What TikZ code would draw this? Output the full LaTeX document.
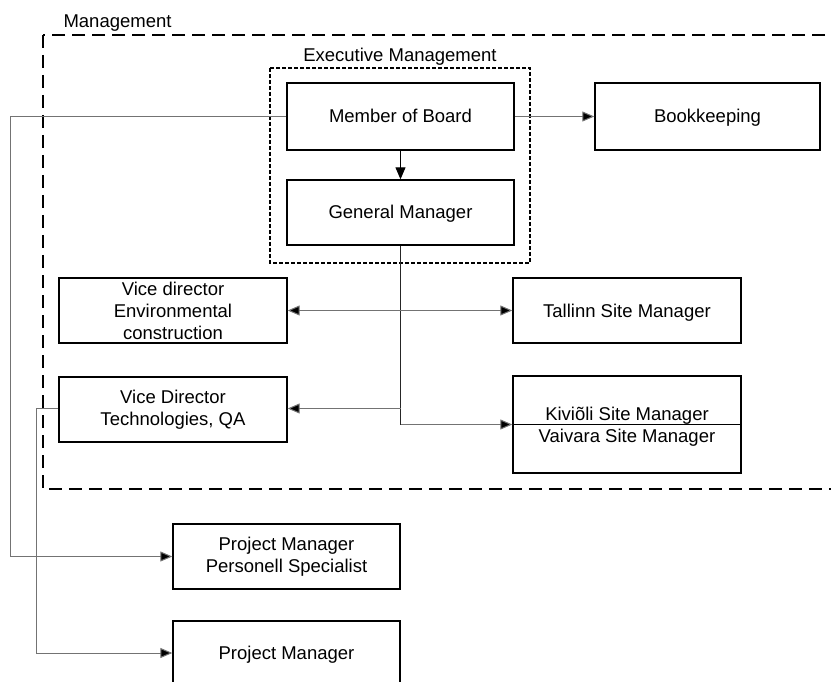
\documentclass[tikz,border=0pt]{standalone}
\usepackage{fontspec}
\setmainfont{Liberation Sans}
\usetikzlibrary{arrows.meta}
\begin{document}
\begin{tikzpicture}[x=1pt,y=-1pt,
  every node/.style={font=\fontsize{18.5}{22}\selectfont},
  unit/.style={draw=black,line width=1.4pt,inner sep=0pt,align=center},
  oneline/.style={text height=16pt,text depth=3pt},
  link/.style={draw=black!55,line width=1pt},
  tip/.style={-{Triangle[length=12pt,width=10pt,fill=black]}},
  bothtips/.style={{Triangle[length=12pt,width=10pt,fill=black]}-{Triangle[length=12pt,width=10pt,fill=black]}},
  group/.style={draw=black,line width=1.5pt,dash pattern=on 13pt off 7pt},
  core/.style={draw=black,line width=1.2pt,dash pattern=on 4pt off 2pt}]
\useasboundingbox (0,0) rectangle (831,682);
\begin{scope}
\clip (0,0) rectangle (831,682);

% outer management area and executive group
\draw[group] (43,35) rectangle (850,489);
\node[anchor=base west] (mgmtlabel) at (60,28) {Management};
\draw[core] (270,68) rectangle (530,263);
\node[anchor=base] (execlabel) at (400,62) {Executive Management};

% boxes
\node[unit,oneline,minimum width=227pt,minimum height=67pt] (board) at (400.5,116.5) {Member of Board};
\node[unit,oneline,minimum width=227pt,minimum height=65pt] (gm) at (400.5,212.5) {General Manager};
\node[unit,oneline,minimum width=225pt,minimum height=67pt] (books) at (707.5,116.5) {Bookkeeping};
\node[unit,minimum width=228pt,minimum height=65pt] (vde) at (173,310.5) {Vice director\\Environmental\\construction};
\node[unit,oneline,minimum width=228pt,minimum height=65pt] (tallinn) at (627,310.5) {Tallinn Site Manager};
\node[unit,minimum width=228pt,minimum height=65pt] (vdt) at (173,409.5) {Vice Director\\Technologies, QA};
\node[unit,minimum width=228pt,minimum height=97pt] (sites) at (627,424.5) {};
\draw[line width=1.4pt] (sites.west) -- (sites.east);
\node[anchor=base] (kivioli) at (627,420) {Kiviõli Site Manager};
\node[anchor=base] (vaivara) at (627,442) {Vaivara Site Manager};
\node[unit,minimum width=227pt,minimum height=65pt] (pmps) at (286.5,556.5) {Project Manager\\Personell Specialist};
\node[unit,oneline,minimum width=227pt,minimum height=64pt] (pm) at (286.5,653) {Project Manager};

% connectors
\coordinate (leftrail) at (10,116.5);
\coordinate (qarail) at (36,408.5);
\coordinate (gmturn) at (400.5,424.5);
\coordinate (gmbranch) at (400.5,408.5);

\draw[link,draw=black,tip] (board.south) -- (gm.north);
\draw[link,tip] (board.east) -- (books.west);
\draw[link,tip] (board.west) -- (leftrail) |- (pmps.west);
\draw[link,draw=black!85] (gm.south) -- (gmturn);
\draw[link,tip] (gmturn) -- (sites.west);
\draw[link,tip] (gmbranch) -- (vdt.east |- gmbranch);
\draw[link,bothtips] (vde.east) -- (tallinn.west);
\draw[link,tip] (vdt.west |- qarail) -- (qarail) |- (pm.west);
\end{scope}
\end{tikzpicture}
\end{document}
